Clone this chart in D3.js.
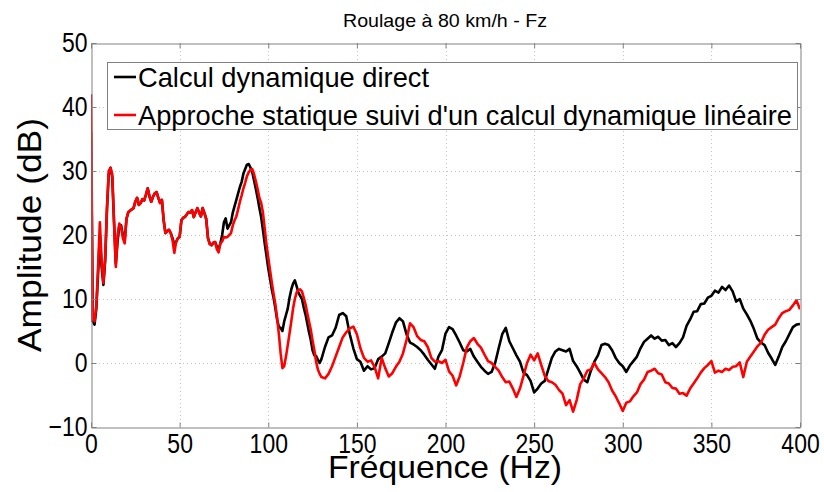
<!DOCTYPE html>
<html>
<head>
<meta charset="utf-8">
<script src="https://cdn.jsdelivr.net/npm/d3@7"></script>
<style>
  html, body { margin: 0; padding: 0; background: #fff; }
  svg { display: block; }
</style>
</head>
<body>
<svg id="chart" width="824" height="492"></svg>
<script>
// Frequency grid: 1 Hz steps up to 130 Hz, 2 Hz steps up to 400 Hz
const freqLow = d3.range(0, 131, 1);
const freqHigh = d3.range(132, 401, 2);
const freqHz = freqLow.concat(freqHigh);

// Calcul dynamique direct (dB)
const directLow = [
  36, 6.5, 6.0, 8.5, 14, 20, 15, 12.2, 16, 24,
  29.5, 30.5, 29, 22, 15.5, 19, 21.5, 21.5, 20, 19,
  22.5, 23.5, 23.8, 24, 24.2, 25.2, 25.8, 24.7, 25, 25.6,
  25.4, 26.3, 27.3, 26, 25.2, 26, 26.5, 26.7, 25.8, 25,
  25.5, 22.3, 20.3, 20.6, 20.8, 20.3, 19.5, 18.5, 18.9, 19.5,
  19.7, 22.3, 22.7, 22.8, 23.2, 23.6, 23.5, 23.9, 22.8, 23.5,
  24.2, 23.5, 22.9, 24.2, 23.4, 22.5, 19.5, 18.6, 18.4, 18.8,
  18.9, 18.2, 17.8, 18.7, 20, 22, 22.6, 21, 21.5, 22,
  23.5, 24.5, 25.5, 26.5, 27.5, 28.3, 29.6, 30.3, 31, 31.1,
  30.5, 29.8, 28.5, 27.2, 25.8, 24.2, 22.8, 20.8, 18.7, 16.8,
  14.8, 13.2, 11.5, 10.2, 8.6, 6.8, 5.6, 5.5, 5.0, 6.5,
  7.5, 8.5, 10.2, 11.5, 12.4, 12.9, 12.0, 11.0, 10.5, 10.0,
  8.7, 7.6, 6.2, 4.8, 3.6, 2.0, 1.2, 1.1, 0.5, 0,
  0.6
];
const directHigh = [
  2.5, 4.0, 4.3, 5.5, 7.5, 7.8, 7.3, 4.5, 2.3, 0.6,
  0.2, -1.2, -0.5, -1.0, -0.8, 0.6, 1.0, 1.5, 3.1, 4.8,
  6.3, 7.0, 6.5, 4.5, 3.2, 2.9, 2.5, 2.0, 1.3, 0.5,
  -0.2, -0.9, 1.0, 2.0, 4.6, 5.6, 5.3, 4.3, 3.2, 2.0,
  1.8, 2.2, 1.0, 0.2, -0.6, -1.2, -1.7, -1.4, 0.0, 2.3,
  4.5, 5.5, 3.4, 2.3, 1.2, 0.2, -1.5, -1.9, -2.8, -4.6,
  -4.0, -3.2, -2.8, -1.0, 0.8, 1.8, 2.2, 2.0, 1.8, 2.2,
  0.3, -0.5, -1.5, -2.6, -3.0, -1.2, 0.2, 1.2, 2.8, 3.0,
  2.8, 2.0, 0.8, 0.0, -0.5, -1.4, -0.4, 0.3, 1.0, 2.3,
  3.3, 3.8, 4.3, 3.8, 4.1, 3.5, 3.6, 2.8, 3.1, 2.5,
  3.1, 4.0, 5.8, 6.8, 8.0, 8.1, 9.2, 9.3, 10.2, 10.5,
  11.3, 11.0, 11.9, 11.4, 12.1, 11.2, 9.6, 10.0, 8.5, 7.6,
  6.6, 5.3, 3.8, 3.2, 2.8, 1.6, 0.7, -0.3, 1.0, 2.5,
  3.4, 4.5, 5.6, 6.0, 6.1
];

// Approche statique suivi d'un calcul dynamique linéaire (dB)
const staticLow = [
  42, 7, 6.5, 9, 15, 22, 16, 12.5, 16.5, 24,
  30, 30.5, 29.5, 22, 15, 20, 21.8, 21.2, 19.5, 18.7,
  22.5, 23.6, 23.8, 24, 24.2, 25.2, 25.8, 24.7, 25, 25.6,
  25.4, 26.3, 27.3, 26, 25.2, 26, 26.5, 26.7, 25.8, 25,
  25.5, 22.3, 20.3, 20.6, 20.8, 20.3, 19.2, 17.2, 18.9, 19.5,
  19.7, 22.3, 22.7, 22.8, 23.2, 23.6, 23.5, 23.9, 22.8, 23.5,
  24.2, 23.5, 22.9, 24.2, 23.4, 22.5, 19.5, 18.6, 18.4, 18.8,
  18.9, 17.8, 17.3, 18.7, 19, 19.7, 19.6, 19.7, 20, 20.3,
  21.5, 22.3, 22.9, 24, 25.2, 26.2, 27.3, 28.2, 29.2, 29.8,
  30.2, 30.3, 29.5, 28.4, 27.2, 25.8, 25, 23.5, 21, 18.5,
  16.5, 14.5, 12.6, 10.8, 9.2, 7.0, 4.5, 1.5, -0.8, -0.5,
  1.0, 2.8, 4.6, 6.5, 8.5, 10, 11, 11.4, 11.5, 11.2,
  10.2, 9.2, 7.8, 6.5, 5.2, 3.5, 2.0, 0.2, -1.0, -1.7,
  -2.2
];
const staticHigh = [
  -2.4, -1.7, -0.5, 1.0, 2.5, 4.0, 4.8, 5.4, 5.7, 4.5,
  2.3, 0.8, 0.2, 0.4, -0.6, -2.4, 0.8, -0.8, -2.1, -1.6,
  -0.6, 0.2, 1.5, 3.6, 6.2, 5.6, 4.2, 3.6, 3.4, 2.5,
  0.8, 0.2, 0.3, 0.0, 0.5, -1.3, -2.0, -3.5, -2.1, 0.0,
  2.4, 3.4, 3.9, 3.0, 2.4, 1.3, 0.3, 0.0, -0.6, -1.2,
  -2.2, -3.0, -2.9, -4.0, -5.3, -4.0, -2.0, 0.0, 1.3, 0.4,
  1.5, -0.3, -2.0, -2.8, -3.0, -3.4, -4.2, -4.8, -6.6, -5.8,
  -7.6, -5.8, -3.3, -2.4, -1.2, -1.0, 0.0, -1.0, -1.6, -2.2,
  -3.0, -4.3, -5.2, -6.3, -7.5, -6.2, -6.0, -5.2, -4.6, -3.3,
  -2.6, -1.4, -1.2, -0.9, -1.6, -1.8, -3.0, -3.2, -3.9, -4.0,
  -4.8, -4.7, -5.1, -4.0, -3.2, -2.4, -1.5, -0.8, -0.3, 0.3,
  -1.5, -1.2, -1.4, -0.9, -1.1, -0.6, -0.5, 0.1, -2.2, 0.2,
  1.0, 1.8, 2.6, 3.2, 4.4, 5.2, 5.6, 6.0, 7.0, 7.8,
  8.1, 8.3, 9.0, 9.8, 8.4
];

const directDB = directLow.concat(directHigh);
const staticDB = staticLow.concat(staticHigh);

const xTicks = [0, 50, 100, 150, 200, 250, 300, 350, 400];
const yTicks = [-10, 0, 10, 20, 30, 40, 50];

const titleText = "Roulage à 80 km/h - Fz";
const xLabel = "Fréquence (Hz)";
const yLabel = "Amplitude (dB)";
const seriesNames = [
  "Calcul dynamique direct",
  "Approche statique suivi d'un calcul dynamique linéaire"
];
const seriesColors = ["#000000", "#ff0000"];

// Layout
const W = 824, H = 492;
const plot = { left: 91, right: 800, top: 43, bottom: 427 };
const fontFamily = "\"Liberation Sans\", Arial, Helvetica, sans-serif";
const axisGrey = "#808080";

const svg = d3.select("#chart");
svg.append("rect").attr("width", W).attr("height", H).attr("fill", "#fff");

const x = d3.scaleLinear().domain([0, 400]).range([plot.left, plot.right]);
const y = d3.scaleLinear().domain([-10, 50]).range([plot.bottom, plot.top]);

// Condense text horizontally (Helvetica-narrow look)
function condense(sel, factor) {
  sel.each(function () {
    const w = this.getComputedTextLength();
    d3.select(this).attr("textLength", w * factor).attr("lengthAdjust", "spacingAndGlyphs");
  });
}

// Dotted grid
const grid = svg.append("g");
grid.selectAll("line.gx").data(xTicks.slice(1, -1)).join("line")
  .attr("x1", d => Math.round(x(d)) + 0.5).attr("x2", d => Math.round(x(d)) + 0.5)
  .attr("y1", plot.top).attr("y2", plot.bottom)
  .attr("stroke", "#c4c4c4").attr("stroke-width", 1).attr("stroke-dasharray", "1,3");
grid.selectAll("line.gy").data(yTicks.slice(1, -1)).join("line")
  .attr("y1", d => Math.round(y(d)) + 0.5).attr("y2", d => Math.round(y(d)) + 0.5)
  .attr("x1", plot.left).attr("x2", plot.right)
  .attr("stroke", "#c4c4c4").attr("stroke-width", 1).attr("stroke-dasharray", "1,3");

// Series
const line = d3.line().x((d, i) => x(freqHz[i])).y(d => y(d));
svg.append("clipPath").attr("id", "plotClip").append("rect")
  .attr("x", plot.left).attr("y", plot.top)
  .attr("width", plot.right - plot.left).attr("height", plot.bottom - plot.top);
svg.append("g").attr("clip-path", "url(#plotClip)")
  .selectAll("path").data([directDB, staticDB]).join("path")
  .attr("d", d => line(d))
  .attr("fill", "none")
  .attr("stroke", (d, i) => seriesColors[i])
  .attr("stroke-width", 2.6)
  .attr("stroke-linejoin", "round");

// Axes (box with inward ticks)
const axB = d3.axisBottom(x).tickValues(xTicks).tickSizeInner(-5).tickSizeOuter(0).tickPadding(6);
const axL = d3.axisLeft(y).tickValues(yTicks).tickSizeInner(-5).tickSizeOuter(0).tickPadding(4);
const axT = d3.axisTop(x).tickValues(xTicks).tickSizeInner(-5).tickSizeOuter(0).tickFormat("");
const axR = d3.axisRight(y).tickValues(yTicks).tickSizeInner(-5).tickSizeOuter(0).tickFormat("");

function styleAxis(g) {
  g.selectAll(".domain").attr("stroke", axisGrey).attr("stroke-width", 1);
  g.selectAll(".tick line").attr("stroke", axisGrey);
  g.selectAll(".tick text").attr("fill", "#000")
    .style("font-family", fontFamily).style("font-size", "28px");
}
const gB = svg.append("g").attr("transform", `translate(0,${plot.bottom + 0.5})`).call(axB).call(styleAxis);
const gL = svg.append("g").attr("transform", `translate(${plot.left + 0.5},0)`).call(axL).call(styleAxis);
svg.append("g").attr("transform", `translate(0,${plot.top + 0.5})`).call(axT).call(styleAxis);
svg.append("g").attr("transform", `translate(${plot.right + 0.5},0)`).call(axR).call(styleAxis);
condense(gB.selectAll(".tick text"), 0.82);
condense(gL.selectAll(".tick text"), 0.82);

// Titles
svg.append("text").attr("x", 445).attr("y", 27).attr("text-anchor", "middle")
  .style("font-family", fontFamily).style("font-size", "19px")
  .attr("textLength", 204).attr("lengthAdjust", "spacingAndGlyphs")
  .text(titleText);
svg.append("text").attr("x", 445).attr("y", 478).attr("text-anchor", "middle")
  .style("font-family", fontFamily).style("font-size", "32px")
  .attr("textLength", 234).attr("lengthAdjust", "spacingAndGlyphs")
  .text(xLabel);
svg.append("text").attr("transform", "translate(41,235) rotate(-90)").attr("text-anchor", "middle")
  .style("font-family", fontFamily).style("font-size", "33px")
  .attr("textLength", 234).attr("lengthAdjust", "spacingAndGlyphs")
  .text(yLabel);

// Legend
const leg = svg.append("g");
leg.append("rect").attr("x", 107.5).attr("y", 62.5).attr("width", 690).attr("height", 67)
  .attr("fill", "#fff").attr("stroke", axisGrey).attr("stroke-width", 1);
const legRows = leg.selectAll("g.row").data(seriesNames).join("g")
  .attr("transform", (d, i) => `translate(0,${77 + i * 38})`);
legRows.append("line").attr("x1", 114).attr("x2", 136).attr("y1", 0).attr("y2", 0)
  .attr("stroke", (d, i) => seriesColors[i]).attr("stroke-width", 2.6);
const legTexts = legRows.append("text").attr("x", 138).attr("y", 10)
  .style("font-family", fontFamily).style("font-size", "28px")
  .text(d => d);
const longest = legTexts.nodes()[1].getComputedTextLength();
condense(legTexts, 654 / longest);
</script>
</body>
</html>
